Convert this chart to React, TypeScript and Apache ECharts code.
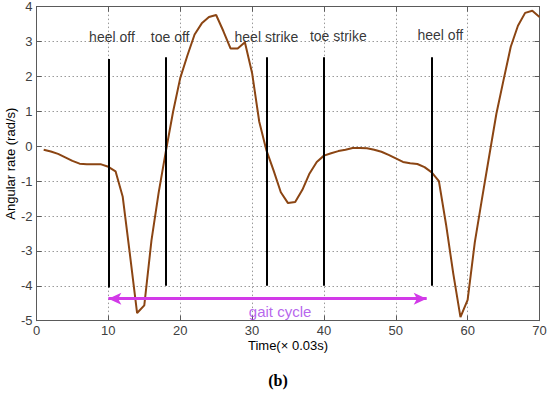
import React, { useEffect, useRef } from "react";
import * as echarts from "echarts";

// Sample index (× 0.03 s) and angular rate (rad/s)
const times: number[] = [
  1, 2, 3, 4, 5, 6, 7, 8, 9, 10,
  11, 12, 13, 14, 15, 16, 17, 18, 19, 20,
  21, 22, 23, 24, 25, 26, 27, 28, 29, 30,
  31, 32, 33, 34, 35, 36, 37, 38, 39, 40,
  41, 42, 43, 44, 45, 46, 47, 48, 49, 50,
  51, 52, 53, 54, 55, 56, 57, 58, 59, 60,
  61, 62, 63, 64, 65, 66, 67, 68, 69, 70,
];
const angularRate: number[] = [
  -0.1, -0.15, -0.22, -0.32, -0.42, -0.5, -0.52, -0.52, -0.52, -0.59,
  -0.72, -1.45, -3.1, -4.78, -4.56, -2.7, -1.33, -0.15, 0.98, 1.95,
  2.6, 3.2, 3.52, 3.7, 3.76, 3.3, 2.8, 2.8, 2.98, 2.1,
  0.7, -0.12, -0.7, -1.32, -1.63, -1.6, -1.25, -0.78, -0.45, -0.27,
  -0.2, -0.14, -0.1, -0.05, -0.05, -0.06, -0.1, -0.16, -0.25, -0.35,
  -0.45, -0.49, -0.51, -0.6, -0.75, -1.0, -2.25, -3.65, -4.9, -4.4,
  -2.75, -1.5, -0.28, 0.93, 1.9, 2.85, 3.45, 3.82, 3.88, 3.7,
];

// Gait events
const eventNames: string[] = ["heel off", "toe off", "heel strike", "toe strike", "heel off"];
const eventTimes: number[] = [10, 18, 32, 40, 55];
const eventTops: number[] = [2.5, 2.55, 2.55, 2.55, 2.55];
const eventBottoms: number[] = [-4.05, -4, -4, -4, -4];
const eventLabelX: number[] = [10.5, 18.6, 32.0, 42.0, 56.2];
const eventLabelY: number[] = [3.13, 3.13, 3.13, 3.16, 3.18];

// Gait cycle arrow
const cycleStart = 10;
const cycleEnd = 54.3;
const cycleLevel = -4.37;
const cycleLabel = "gait cycle";
const cycleLabelPos: number[] = [33.9, -4.73];

const xTicks = { min: 0, max: 70, interval: 10 };
const yTicks = { min: -5, max: 4, interval: 1 };

const FONT = '"Liberation Sans", Arial, sans-serif';

export default function App() {
  const ref = useRef<HTMLDivElement>(null);
  useEffect(() => {
    if (!ref.current) return;
    const chart = echarts.init(ref.current, undefined, { renderer: "svg" });
    const gridLine = { show: true, lineStyle: { type: [1.5, 2.5] as any, color: "#9a9a9a", width: 1 } };
    const axisLine = { show: true, onZero: false, lineStyle: { color: "#5a5a5a", width: 1 } };
    const tick = { show: true, inside: true, length: 5, lineStyle: { color: "#5a5a5a" } };
    chart.setOption({
      animation: false,
      backgroundColor: "#ffffff",
      grid: {
        left: 36.5,
        right: 10.5,
        top: 6.6,
        bottom: 72.3,
        containLabel: false,
        outerBoundsMode: "none",
      },
      xAxis: [
        {
          type: "value",
          ...xTicks,
          position: "bottom",
          name: "Time(× 0.03s)",
          nameLocation: "middle",
          nameGap: 18,
          nameMoveOverlap: false,
          nameTextStyle: { color: "#000", fontSize: 13, fontFamily: FONT },
          axisLine,
          axisTick: tick,
          splitLine: gridLine,
          axisLabel: { color: "#404040", fontSize: 13, fontFamily: FONT, margin: 3 },
        },
        {
          type: "value",
          ...xTicks,
          position: "top",
          axisLine,
          axisTick: tick,
          splitLine: { show: false },
          axisLabel: { show: false },
        },
      ],
      yAxis: [
        {
          type: "value",
          ...yTicks,
          position: "left",
          name: "Angular rate (rad/s)",
          nameLocation: "middle",
          nameGap: 20,
          nameMoveOverlap: false,
          nameTextStyle: { color: "#000", fontSize: 13, fontFamily: FONT },
          axisLine,
          axisTick: tick,
          splitLine: gridLine,
          axisLabel: { color: "#404040", fontSize: 13, fontFamily: FONT, margin: 4 },
        },
        {
          type: "value",
          ...yTicks,
          position: "right",
          axisLine,
          axisTick: tick,
          splitLine: { show: false },
          axisLabel: { show: false },
        },
      ],
      series: [
        {
          type: "line",
          name: "events",
          data: [],
          silent: true,
          markLine: {
            silent: true,
            symbol: "none",
            animation: false,
            lineStyle: { color: "#000", width: 2, type: "solid" },
            label: { show: false },
            data: eventTimes.map((t, i) => [
              { coord: [t, eventTops[i]] },
              { coord: [t, eventBottoms[i]] },
            ]),
          },
        },
        {
          type: "line",
          name: "cycle",
          data: [],
          silent: true,
          markLine: {
            silent: true,
            symbol: ["arrow", "arrow"],
            symbolSize: [9, 13],
            animation: false,
            lineStyle: { color: "#d23ae8", width: 3, type: "solid" },
            label: { show: false },
            data: [[{ coord: [cycleStart, cycleLevel] }, { coord: [cycleEnd, cycleLevel] }]],
          },
        },
        {
          type: "line",
          name: "Angular rate",
          data: times.map((t, i) => [t, angularRate[i]]),
          showSymbol: false,
          symbol: "none",
          z: 3,
          lineStyle: { color: "#8b4513", width: 2 },
        },
        {
          type: "scatter",
          name: "labels",
          symbolSize: 0,
          silent: true,
          z: 4,
          data: eventNames.map((n, i) => ({ name: n, value: [eventLabelX[i], eventLabelY[i]] })),
          label: {
            show: true,
            position: "inside",
            formatter: (p: any) => p.name,
            color: "#000",
            fontSize: 14,
            fontFamily: FONT,
          },
        },
        {
          type: "scatter",
          name: "cycleLabel",
          symbolSize: 0,
          silent: true,
          z: 4,
          data: [{ name: cycleLabel, value: cycleLabelPos }],
          label: {
            show: true,
            position: "inside",
            formatter: (p: any) => p.name,
            color: "#a43ee8",
            fontSize: 15,
            fontFamily: FONT,
          },
        },
      ],
      graphic: [
        {
          type: "text",
          x: 278,
          y: 380,
          style: {
            text: "(b)",
            font: 'bold 16px "Liberation Serif", "DejaVu Serif", serif',
            fill: "#000",
            align: "center",
            verticalAlign: "middle",
            textAlign: "center",
            textVerticalAlign: "middle",
          },
        },
      ],
    });
    return () => chart.dispose();
  }, []);
  return (
    <div
      ref={ref}
      style={{ position: "absolute", left: 0, top: 0, width: 550, height: 393, background: "#fff" }}
    />
  );
}
